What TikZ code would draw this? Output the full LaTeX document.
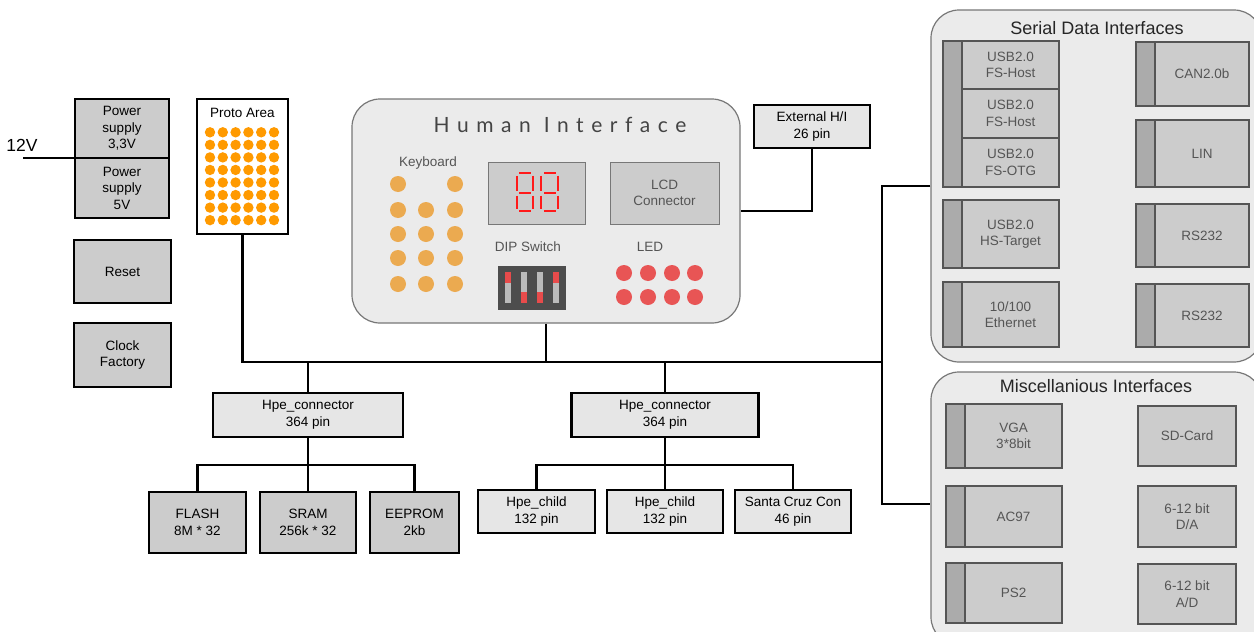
\documentclass[tikz,border=0pt]{standalone}
\usepackage{fontspec}
\setmainfont{Liberation Sans}
\newfontfamily\hifont[LetterSpace=36]{Lato}
\definecolor{boxgray}{HTML}{CCCCCC}
\definecolor{lightbox}{HTML}{E6E6E6}
\definecolor{panelfill}{HTML}{EBEBEB}
\definecolor{panelborder}{HTML}{777777}
\definecolor{stripgray}{HTML}{ABABAB}
\definecolor{ifborder}{HTML}{555555}
\definecolor{iftext}{HTML}{555555}
\definecolor{titlegray}{HTML}{444444}
\definecolor{protodot}{HTML}{FF9A00}
\definecolor{keydot}{HTML}{EBAA50}
\definecolor{leddot}{HTML}{E85555}
\definecolor{dipdark}{HTML}{4D4D4D}
\definecolor{dipslot}{HTML}{BBBBBB}
\definecolor{dipred}{HTML}{E84B4B}
\definecolor{segred}{HTML}{FF1A1A}
\begin{document}
\begin{tikzpicture}[x=1pt,y=-1pt,
  lbl/.style={font=\fontsize{13.5}{16.5}\selectfont, align=center},
  blk/.style={draw=black, line width=2.6pt, lbl, inner sep=0pt},
  gbox/.style={blk, fill=boxgray},
  lbox/.style={blk, fill=lightbox},
  wire/.style={line width=2.6pt, draw=black},
  panel/.style={draw=panelborder, line width=1.2pt, fill=panelfill, rounded corners=28pt, inner sep=0pt},
  ifbox/.style={draw=ifborder, line width=2pt, fill=boxgray, text=iftext, lbl, inner sep=0pt},
  stripbox/.style={draw=ifborder, line width=2pt, fill=stripgray, inner sep=0pt},
  hilbl/.style={lbl, text=iftext},
  inbox/.style={draw=panelborder, line width=1pt, fill=boxgray, text=iftext, lbl, inner sep=0pt},
  paneltitle/.style={font=\fontsize{18}{21}\selectfont, text=black!85}
]
\useasboundingbox (0,0) rectangle (1254,632);

% ---------- panels ----------
\node[panel, minimum width=388, minimum height=224] (hi) at (546,211) {};
\node[panel, minimum width=331, minimum height=352] (serial) at (1096.5,186) {};
\node[panel, minimum width=331, minimum height=273] (misc) at (1096.5,508.5) {};

% ---------- Human interface contents ----------
\node[font=\hifont\fontsize{21}{24}\selectfont, text=titlegray] (hititle) at (560,125) {Human Interface};
\node[hilbl] (kbdlbl) at (428,163) {Keyboard};
\foreach \x/\y in {398/184,455/184,398/210,426/210,455/210,398/234,426/234,455/234,398/258,426/258,455/258,398/284,426/284,455/284}
  \fill[keydot] (\x,\y) circle (8pt);
\node[inbox, minimum width=97, minimum height=62] (seg) at (536.5,193) {};
\foreach \xl in {516.7,541.3} {
  \draw[segred, line width=2.1pt]
    (\xl+2.5,173) -- (\xl+14.2,173)
    (\xl,175.5) -- (\xl,190.5)
    (\xl+16.7,175.5) -- (\xl+16.7,190.5)
    (\xl+2.5,193) -- (\xl+14.2,193)
    (\xl,195.5) -- (\xl,208.5)
    (\xl+16.7,195.5) -- (\xl+16.7,208.5)
    (\xl+2.5,211) -- (\xl+14.2,211);
}
\node[inbox, minimum width=109, minimum height=62] (lcd) at (664.5,193) {LCD\\Connector};
\node[hilbl] (diplbl) at (528,247) {DIP Switch};
\node[hilbl] (ledlbl) at (650,247) {LED};
\node[fill=dipdark, minimum width=68, minimum height=44, inner sep=0pt] (dip) at (532,288) {};
\foreach \x in {508,524,540,556}
  \fill[dipslot] (\x-3,272) rectangle (\x+3,303);
\foreach \x in {508,556}
  \fill[dipred] (\x-3,272) rectangle (\x+3,283);
\foreach \x in {524,540}
  \fill[dipred] (\x-3,292) rectangle (\x+3,303);
\foreach \x in {624,648,672,695}
  \foreach \y in {273,297}
    \fill[leddot] (\x,\y) circle (8pt);

% ---------- left blocks ----------
\node[gbox, minimum width=94, minimum height=59] (ps33) at (122,128.5) {Power\\supply\\3,3V};
\node[gbox, minimum width=94, minimum height=60] (ps5) at (122,188) {Power\\supply\\5V};
\node[gbox, minimum width=97, minimum height=63] (reset) at (122.5,271.5) {Reset};
\node[gbox, minimum width=97, minimum height=64] (clock) at (122.5,355) {Clock\\Factory};
\node[font=\fontsize{17.5}{20}\selectfont] (v12lbl) at (22,145) {12V};
\coordinate (v12) at (23,158);

\node[blk, fill=white, minimum width=91, minimum height=135] (proto) at (242.5,166.5) {};
\node[lbl] (protolbl) at (242.5,113) {Proto Area};
\foreach \i in {0,...,5}
  \foreach \j in {0,...,7}
    \fill[protodot] (210+12.8*\i,132.3+12.55*\j) circle (5.2pt);

\node[lbox, minimum width=116, minimum height=43] (ext) at (812,126.5) {External H/I\\26 pin};

% ---------- memory / connector tree ----------
\node[lbox, minimum width=190, minimum height=44] (hpe1) at (308,415) {Hpe\_connector\\364 pin};
\node[gbox, minimum width=97, minimum height=61] (flash) at (197.5,522.5) {FLASH\\8M * 32};
\node[gbox, minimum width=96, minimum height=61] (sram) at (308,522.5) {SRAM\\256k * 32};
\node[gbox, minimum width=89, minimum height=61] (eeprom) at (414.5,522.5) {EEPROM\\2kb};

\node[lbox, minimum width=187, minimum height=44] (hpe2) at (665,415) {Hpe\_connector\\364 pin};
\node[lbox, minimum width=117, minimum height=43] (child1) at (536.5,511.5) {Hpe\_child\\132 pin};
\node[lbox, minimum width=116, minimum height=43] (child2) at (665,511.5) {Hpe\_child\\132 pin};
\node[lbox, minimum width=116, minimum height=43] (santa) at (793,511.5) {Santa Cruz Con\\46 pin};

% ---------- serial interfaces ----------
\node[paneltitle] (sertitle) at (1097,28) {Serial Data Interfaces};
\node[stripbox, minimum width=19, minimum height=146] (usbstrip) at (952.5,114) {};
\node[ifbox, minimum width=97, minimum height=48] (usb1) at (1010.5,65) {USB2.0\\FS-Host};
\node[ifbox, minimum width=97, minimum height=49] (usb2) at (1010.5,113.5) {USB2.0\\FS-Host};
\node[ifbox, minimum width=97, minimum height=49] (usb3) at (1010.5,162.5) {USB2.0\\FS-OTG};
\node[stripbox, minimum width=19, minimum height=68] (hsstrip) at (952.5,234) {};
\node[ifbox, minimum width=97, minimum height=68] (hs) at (1010.5,234) {USB2.0\\HS-Target};
\node[stripbox, minimum width=19, minimum height=65] (ethstrip) at (952.5,314.5) {};
\node[ifbox, minimum width=97, minimum height=65] (eth) at (1010.5,314.5) {10/100\\Ethernet};

\node[stripbox, minimum width=19, minimum height=64] (canstrip) at (1145.5,74) {};
\node[ifbox, minimum width=94, minimum height=64] (can) at (1202,74) {CAN2.0b};
\node[stripbox, minimum width=19, minimum height=67] (linstrip) at (1145.5,153.5) {};
\node[ifbox, minimum width=94, minimum height=67] (lin) at (1202,153.5) {LIN};
\node[stripbox, minimum width=19, minimum height=63] (rsastrip) at (1145.5,235.5) {};
\node[ifbox, minimum width=94, minimum height=63] (rsa) at (1202,235.5) {RS232};
\node[stripbox, minimum width=19, minimum height=63] (rsbstrip) at (1145.5,315.5) {};
\node[ifbox, minimum width=94, minimum height=63] (rsb) at (1202,315.5) {RS232};

% ---------- misc interfaces ----------
\node[paneltitle] (misctitle) at (1096,386) {Miscellanious Interfaces};
\node[stripbox, minimum width=19, minimum height=64] (vgastrip) at (955.5,436) {};
\node[ifbox, minimum width=97, minimum height=64] (vga) at (1013.5,436) {VGA\\3*8bit};
\node[stripbox, minimum width=19, minimum height=61] (acstrip) at (955.5,516.5) {};
\node[ifbox, minimum width=97, minimum height=61] (ac) at (1013.5,516.5) {AC97};
\node[stripbox, minimum width=19, minimum height=60] (psstrip) at (955.5,593) {};
\node[ifbox, minimum width=97, minimum height=60] (ps2) at (1013.5,593) {PS2};
\node[ifbox, minimum width=98, minimum height=60] (sd) at (1187,436) {SD-Card};
\node[ifbox, minimum width=98, minimum height=61] (da) at (1187,516.5) {6-12 bit\\D/A};
\node[ifbox, minimum width=98, minimum height=60] (ad) at (1187,594) {6-12 bit\\A/D};

% ---------- wires ----------
\coordinate (busR) at (882,362);
\coordinate (tapS) at (882,186);
\coordinate (tapM) at (882,504);
\draw[wire] (v12) -- (v12 -| ps33.west);
\draw[wire] (proto.south) |- (busR);
\draw[wire] (hi.south) -- (hi.south |- busR);
\draw[wire] (hpe1.north) -- (hpe1.north |- busR);
\draw[wire] (hpe2.north) -- (hpe2.north |- busR);
\draw[wire] (serial.west |- tapS) -- (tapS) -- (tapM) -- (misc.west |- tapM);
\draw[wire] (ext.south) |- (hi.east);
\draw[wire] (hpe1.south) -- (sram.north);
\draw[wire] (flash.north) |- (eeprom.north |- 0,465) -- (eeprom.north);
\draw[wire] (hpe2.south) -- (child2.north);
\draw[wire] (child1.north) |- (santa.north |- 0,465) -- (santa.north);
\end{tikzpicture}
\end{document}
